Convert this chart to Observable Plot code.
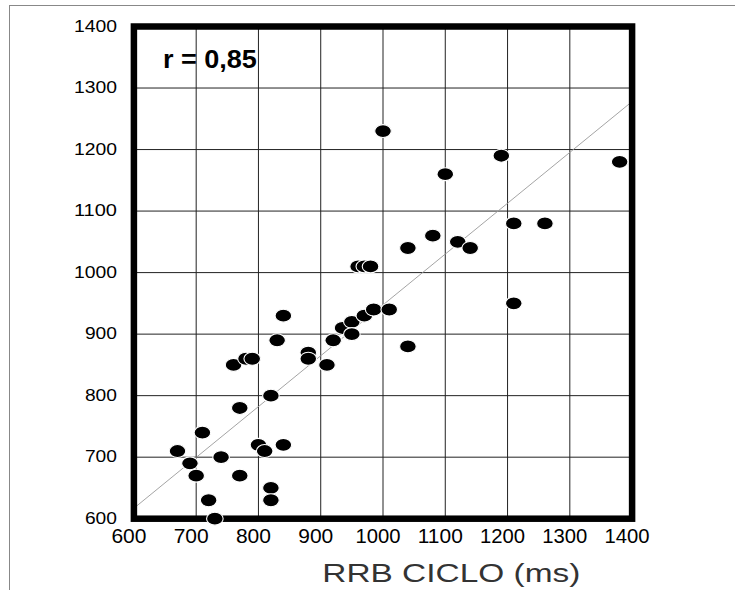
<!DOCTYPE html>
<html>
<head>
<meta charset="utf-8">
<script src="https://cdn.jsdelivr.net/npm/d3@7"></script>
<script src="https://cdn.jsdelivr.net/npm/@observablehq/plot@0.6"></script>
<style>
  html, body { margin: 0; padding: 0; background: #fff; }
  #wrap { position: relative; width: 735px; height: 590px; overflow: hidden; }
  #edge { position: absolute; left: 9px; top: 5px; right: -2px; bottom: -2px;
          border-top: 1px solid #888; border-left: 1px solid #888; pointer-events: none; }
</style>
</head>
<body>
<div id="wrap"><div id="edge"></div></div>
<script>
// ---- data ----
const dotX = [670, 690, 700, 710, 720, 730, 740, 760, 770, 770, 780, 790, 800, 810, 820, 820, 820,
              830, 840, 840, 880, 880, 910, 920, 935, 950, 950, 970, 985, 960, 970, 980, 1000, 1010,
              1040, 1040, 1080, 1100, 1120, 1140, 1190, 1210, 1210, 1260, 1380];
const dotY = [710, 690, 670, 740, 630, 600, 700, 850, 780, 670, 860, 860, 720, 710, 800, 650, 630,
              890, 930, 720, 870, 860, 850, 890, 910, 920, 900, 930, 940, 1010, 1010, 1010, 1230, 940,
              1040, 880, 1060, 1160, 1050, 1040, 1190, 1080, 950, 1080, 1180];
const fitX = [600, 1400];
const fitY = [617, 1278];
const xTicks = [600, 700, 800, 900, 1000, 1100, 1200, 1300, 1400];
const yTicks = [600, 700, 800, 900, 1000, 1100, 1200, 1300, 1400];
const xTitle = "RRB CICLO (ms)";
const rLabel = "r = 0,85";

const points = dotX.map((x, i) => ({x, y: dotY[i]}));
const fit = fitX.map((x, i) => ({x, y: fitY[i]}));

// ellipse-shaped symbol (wider than tall)
const ellipse = {
  draw(ctx, size) {
    const r = Math.sqrt(size / Math.PI);
    const rx = r, ry = r * 0.78, k = 0.5523;
    ctx.moveTo(rx, 0);
    ctx.bezierCurveTo(rx, ry * k, rx * k, ry, 0, ry);
    ctx.bezierCurveTo(-rx * k, ry, -rx, ry * k, -rx, 0);
    ctx.bezierCurveTo(-rx, -ry * k, -rx * k, -ry, 0, -ry);
    ctx.bezierCurveTo(rx * k, -ry, rx, -ry * k, rx, 0);
    ctx.closePath();
  }
};

const svg = Plot.plot({
  width: 735,
  height: 590,
  marginLeft: 133.4,
  marginRight: 103.4,
  marginTop: 26,
  marginBottom: 71.8,
  style: {fontFamily: "'Liberation Sans', Arial, sans-serif", background: "transparent", overflow: "visible"},
  x: {domain: [600, 1400], axis: null},
  y: {domain: [600, 1400], axis: null},
  marks: [
    Plot.ruleX(xTicks, {x: d => d, stroke: "#222", strokeWidth: 1}),
    Plot.ruleY(yTicks, {y: d => d, stroke: "#222", strokeWidth: 1}),
    Plot.line(fit, {x: "x", y: "y", stroke: "#9a9a9a", strokeWidth: 0.9, clip: true}),
    Plot.frame({stroke: "#000", strokeWidth: 6.5}),
    Plot.dot(points, {x: "x", y: "y", r: 8.3, symbol: ellipse, fill: "#000", stroke: "#fff", strokeWidth: 1.1}),
    Plot.text([rLabel], {frameAnchor: "top-left", text: d => d, dx: 29, dy: 24, fontSize: 25,
      fontWeight: "bold", fill: "#000", ariaDescription: "rlabel"}),
    Plot.text(yTicks, {y: d => d, text: d => String(d), frameAnchor: "left", textAnchor: "end",
      dx: -17, fontSize: 16, fill: "#000", ariaDescription: "ylab"}),
    Plot.text(xTicks, {x: d => d, text: d => String(d), frameAnchor: "bottom", lineAnchor: "top",
      dy: 10, dx: -5, fontSize: 20, fill: "#000", ariaDescription: "xlab"}),
    Plot.text([xTitle], {frameAnchor: "bottom", text: d => d, lineAnchor: "bottom",
      dx: 68.3, dy: 63.5, fontSize: 25.5, fill: "#333", ariaDescription: "xtitle"})
  ]
});

function groupOf(el, key) {
  const g = el.closest("g");
  if (!g) return null;
  const desc = g.getAttribute("aria-description");
  if (desc) return desc;
  return null;
}
const stretch = {ylab: [32, 43], xlab: [35, 45]};
d3.select(svg).selectAll("text").each(function() {
  let key = groupOf(this);
  if (!key) {
    // fallback: identify by font size of the enclosing group
    const fs = (this.closest("[font-size]") || this).getAttribute("font-size");
    if (fs === "16") key = "ylab";
    else if (fs === "20") key = "xlab";
    else if (fs === "25.5") key = "xtitle";
    else if (fs === "25") key = "rlabel";
  }
  const n = this.textContent.length;
  let len = null;
  if (key === "ylab") len = n === 4 ? 43 : 32;
  else if (key === "xlab") len = n === 4 ? 45 : 35;
  else if (key === "xtitle") len = 258;
  else if (key === "rlabel") len = 94;
  if (len) d3.select(this).attr("textLength", len).attr("lengthAdjust", "spacingAndGlyphs");
});

document.getElementById("wrap").insertBefore(svg, document.getElementById("edge"));
</script>
</body>
</html>
